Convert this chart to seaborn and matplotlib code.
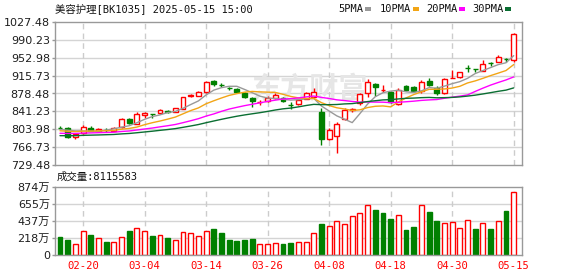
import numpy as np
import pandas as pd
import matplotlib
matplotlib.use("Agg")
import matplotlib.pyplot as plt
from matplotlib.patches import Rectangle
import seaborn as sns

# ---------------- data ----------------
dates = ["02-17", "02-18", "02-19", "02-20", "02-21", "02-24", "02-25", "02-26", "02-27", "02-28",
         "03-03", "03-04", "03-05", "03-06", "03-07", "03-10", "03-11", "03-12", "03-13", "03-14",
         "03-17", "03-18", "03-19", "03-20", "03-21", "03-24", "03-25", "03-26", "03-27", "03-28",
         "03-31", "04-01", "04-02", "04-03", "04-07", "04-08", "04-09", "04-10", "04-11", "04-14",
         "04-15", "04-16", "04-17", "04-18", "04-21", "04-22", "04-23", "04-24", "04-25", "04-28",
         "04-29", "04-30", "05-06", "05-07", "05-08", "05-09", "05-12", "05-13", "05-14", "05-15"]

opens = [807.6, 805.9, 787.1, 796.9, 807.3, 800.3, 803.0, 800.3, 808.0, 826.0,
         814.9, 833.0, 836.0, 837.2, 841.2, 840.6, 846.2, 874.0, 873.3, 882.3,
         904.5, 896.6, 889.4, 887.9, 879.5, 869.1, 859.8, 862.9, 869.1, 869.8,
         854.9, 855.9, 867.0, 871.9, 839.2, 783.7, 789.9, 825.4, 844.8, 858.0,
         878.8, 898.3, 885.5, 882.3, 856.6, 894.1, 891.3, 884.4, 905.2, 890.6,
         878.8, 910.1, 912.2, 931.2, 928.9, 926.1, 941.6, 944.8, 949.9, 948.3]
closes = [807.3, 788.5, 794.1, 809.4, 801.0, 804.5, 802.4, 807.3, 826.0, 816.3,
          835.8, 837.9, 835.5, 844.1, 840.6, 847.6, 870.5, 874.7, 881.6, 903.1,
          897.6, 896.2, 889.0, 881.6, 870.5, 863.5, 860.1, 869.8, 876.1, 862.9,
          854.5, 864.9, 878.8, 880.9, 783.0, 802.4, 814.2, 844.1, 845.2, 876.8,
          901.7, 891.3, 885.8, 861.5, 885.8, 885.8, 884.4, 901.8, 896.2, 878.8,
          908.0, 910.4, 922.6, 930.9, 928.6, 939.3, 941.3, 953.9, 949.6, 1002.5]
highs = [810.8, 809.4, 794.8, 812.2, 810.1, 805.9, 806.6, 808.7, 827.4, 828.1,
         839.9, 839.2, 836.5, 846.2, 843.4, 849.0, 871.9, 877.4, 883.7, 904.5,
         906.6, 899.7, 892.7, 890.0, 882.3, 870.5, 864.9, 873.3, 878.8, 871.9,
         861.5, 867.0, 881.6, 889.3, 849.0, 805.9, 819.8, 847.6, 849.0, 878.8,
         908.0, 901.1, 896.2, 884.4, 889.3, 896.2, 894.8, 906.6, 910.1, 894.1,
         910.1, 927.5, 924.0, 937.9, 929.5, 948.3, 944.8, 958.7, 953.2, 1005.3]
lows = [803.8, 785.1, 784.4, 794.1, 799.7, 799.6, 798.3, 799.6, 807.3, 814.9,
        814.2, 827.4, 826.7, 835.1, 837.9, 839.9, 845.5, 870.5, 872.6, 879.5,
        894.1, 891.3, 885.8, 878.8, 869.1, 851.0, 854.5, 861.5, 867.7, 860.8,
        846.9, 853.8, 866.3, 870.5, 771.2, 781.6, 755.2, 823.3, 840.6, 854.5,
        871.9, 873.3, 881.6, 858.0, 854.5, 883.0, 880.9, 880.2, 894.1, 875.4,
        877.4, 910.1, 911.5, 924.0, 923.3, 925.4, 935.8, 944.1, 943.4, 944.8]

# volume in 万 (10k shares)
volume_wan = [230, 192, 137, 307, 256, 214, 166, 166, 230, 307,
              341, 307, 243, 252, 218, 192, 294, 282, 243, 307,
              333, 286, 192, 183, 192, 205, 141, 141, 154, 145,
              154, 166, 166, 282, 397, 371, 435, 397, 495, 538,
              640, 576, 538, 461, 512, 320, 358, 649, 550, 435,
              410, 422, 341, 444, 333, 410, 333, 431, 563, 811.5583]
# 1 = red (up) volume bar, 0 = green (down)
volume_up = [0, 0, 1, 1, 0, 1, 0, 1, 1, 0,
             1, 1, 0, 1, 0, 1, 1, 1, 1, 1,
             0, 0, 0, 0, 0, 0, 1, 1, 1, 0,
             0, 1, 1, 1, 0, 1, 1, 1, 1, 1,
             1, 0, 0, 0, 1, 0, 0, 1, 0, 0,
             1, 1, 1, 1, 0, 1, 0, 1, 0, 1]

# moving-average values for the first bars (window reaches before the view)
ma5_head = [803.5, 802.0, 800.5, 800.5]
ma10_head = [800.8, 799.7, 799.1, 800.0, 800.1, 800.6, 800.8, 801.5, 804.1]
ma20_head = [795.6, 795.3, 795.3, 796.0, 796.3, 796.8, 797.2, 797.8, 799.3, 800.4,
             802.4, 804.5, 806.5, 809.0, 811.3, 813.9, 817.7, 821.7, 826.0]
ma30_head = [790.6, 790.5, 790.6, 791.3, 791.7, 792.1, 792.6, 793.1, 794.3, 795.2,
             796.7, 798.3, 799.9, 801.7, 803.4, 805.3, 808.0, 810.8, 813.8, 817.6,
             821.2, 824.7, 828.0, 831.1, 833.8, 836.2, 838.5, 841.2, 844.1]

price_ticks = [729.48, 766.73, 803.98, 841.23, 878.48, 915.73, 952.98, 990.23, 1027.48]
volume_ticks = [0, 218.5, 437, 655.5, 874]
volume_tick_labels = ["0", "218万", "437万", "655万", "874万"]
tick_dates = ["02-20", "03-04", "03-14", "03-26", "04-08", "04-18", "04-30", "05-15"]
title_text = "美容护理[BK1035] 2025-05-15 15:00"
volume_title = "成交量:8115583"
ma_names = ["5PMA", "10PMA", "20PMA", "30PMA"]

# ---------------- style ----------------
sns.set_theme(style="white")
plt.rcParams["font.family"] = ["DejaVu Sans", "Noto Sans CJK SC"]
MONO = ["DejaVu Sans Mono", "Noto Sans CJK SC"]
RED = "#FF0000"
GREEN = "#008000"
MA_COLORS = ["#999999", "#F2A516", "#FF00FF", "#0A6E32"]
GRID = "#D4D4D4"
SPINE = "#999999"

W, H = 578, 276
fig = plt.figure(figsize=(W / 100, H / 100), dpi=100)
fig.patch.set_facecolor("white")

def fx(px):
    return px / W

def fy(py):
    return 1 - py / H

left_px, right_px = 54.5, 522
ax = fig.add_axes([fx(left_px), fy(165), fx(right_px - left_px), (165 - 22) / H])
axv = fig.add_axes([fx(left_px), fy(255), fx(right_px - left_px), (255 - 187) / H])

n = len(closes)
x = np.arange(n)
xlim = (-0.715, 60.08)
tick_idx = [dates.index(d) for d in tick_dates]

# ---------------- price panel ----------------
ax.set_xlim(*xlim)
ax.set_ylim(price_ticks[0], price_ticks[-1])
for yv in price_ticks[1:-1]:
    ax.axhline(yv, color=GRID, lw=1, zorder=0.5)
for ti in tick_idx:
    ax.axvline(ti, color="#CCCCCC", lw=1, ls=(0, (4, 3)), zorder=0.5)

ax.text(32.4, 889, "东方财富", fontsize=21, color="#E6E6E6", ha="center", va="center",
        fontweight="bold", family=["Noto Sans CJK SC"], zorder=0.6)

bw = 0.64
for i in range(n):
    o, c, h, l = opens[i], closes[i], highs[i], lows[i]
    top, bot = max(o, c), min(o, c)
    col = RED if c >= o else GREEN
    if h > top:
        ax.vlines(i, top, h, color=col, lw=1, zorder=2)
    if l < bot:
        ax.vlines(i, l, bot, color=col, lw=1, zorder=2)
    hgt = max(top - bot, 0.05)
    ax.bar(i, hgt, bottom=bot, width=bw,
           facecolor="white" if c >= o else col, edgecolor=col, linewidth=1, zorder=2.5)

close_s = pd.Series(closes, dtype=float)
for win, head, colr in zip([5, 10, 20, 30], [ma5_head, ma10_head, ma20_head, ma30_head], MA_COLORS):
    ma = close_s.rolling(win).mean().to_numpy()
    ma[: win - 1] = head
    sns.lineplot(x=x, y=ma, color=colr, linewidth=1, ax=ax, zorder=3)

ax.set_yticks(price_ticks)
ax.set_yticklabels([f"{v:.2f}" for v in price_ticks])
ax.set_xticks([])
ax.tick_params(axis="y", direction="out", length=2.5, width=1, color=SPINE, pad=0.8,
               labelsize=8, labelcolor="#1E1E1E", left=True)
for sp in ax.spines.values():
    sp.set_color(SPINE)
    sp.set_linewidth(1)
ax.set_xlabel("")
ax.set_ylabel("")

# ---------------- volume panel ----------------
axv.set_xlim(*xlim)
axv.set_ylim(0, 874)
for yv in volume_ticks[1:-1]:
    axv.axhline(yv, color=GRID, lw=1, zorder=0.5)
for ti in tick_idx:
    axv.axvline(ti, color="#CCCCCC", lw=1, ls=(0, (4, 3)), zorder=0.5)
for i in range(n):
    if volume_up[i]:
        axv.bar(i, volume_wan[i], width=bw, facecolor="white", edgecolor=RED, linewidth=1, zorder=2)
    else:
        axv.bar(i, volume_wan[i], width=bw, facecolor=GREEN, edgecolor=GREEN, linewidth=1, zorder=2)

axv.set_yticks(volume_ticks)
axv.set_yticklabels(volume_tick_labels)
axv.set_xticks(tick_idx)
axv.set_xticklabels(tick_dates)
axv.tick_params(axis="y", direction="out", length=2.5, width=1, color=SPINE, pad=0.8,
                labelsize=8, labelcolor="#1E1E1E", left=True)
axv.tick_params(axis="x", length=0, pad=4, labelsize=7.6, labelcolor=RED)
for lab in axv.get_xticklabels():
    lab.set_family(MONO)
for sp in axv.spines.values():
    sp.set_color(SPINE)
    sp.set_linewidth(1)
axv.set_xlabel("")
axv.set_ylabel("")

# ---------------- header texts ----------------
fig.text(fx(55), fy(8.5), title_text, fontsize=7.5, family=MONO, color="#111111",
         ha="left", va="center")
fig.text(fx(57), fy(177), volume_title, fontsize=7.5, family=MONO, color="#111111",
         ha="left", va="center")

legend_text_x = [338, 380, 426, 472]
legend_box_x = [365, 413, 459, 505]
for name, tx, bx, colr in zip(ma_names, legend_text_x, legend_box_x, MA_COLORS):
    fig.text(fx(tx), fy(8.5), name, fontsize=7.5, family=MONO, color="#111111",
             ha="left", va="center")
    fig.add_artist(Rectangle((fx(bx), fy(10.5)), 6 / W, 4 / H, transform=fig.transFigure,
                             facecolor=colr, edgecolor="none"))

fig.savefig("out.png", dpi=100, facecolor="white")
